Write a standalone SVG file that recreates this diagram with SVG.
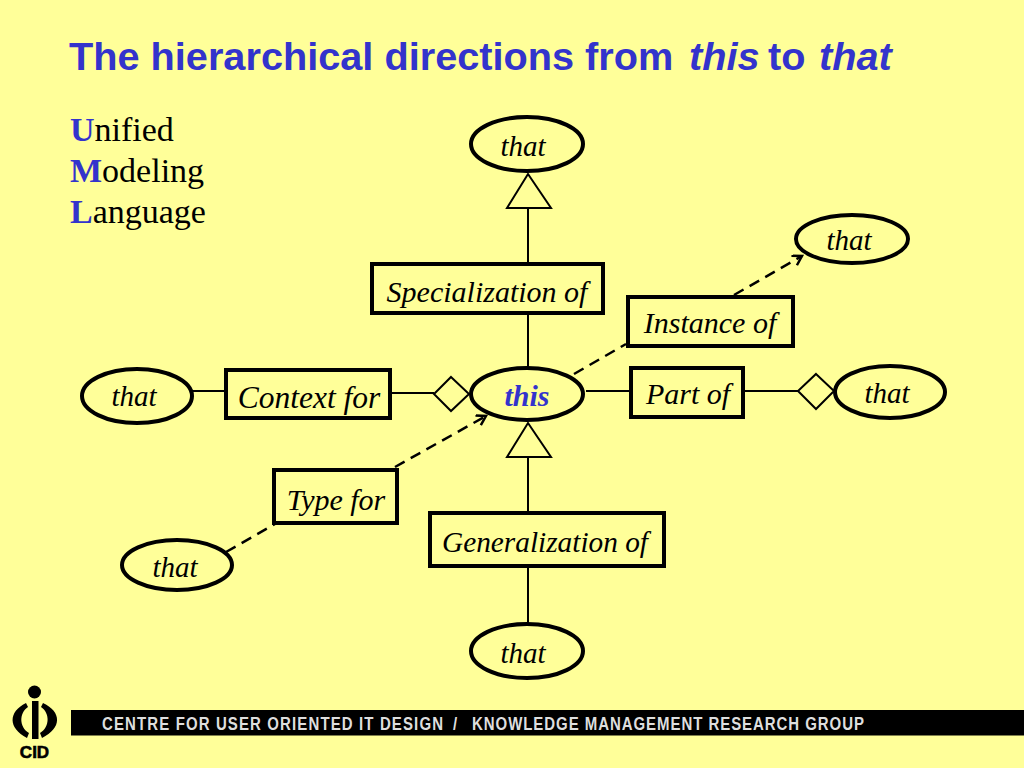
<svg xmlns="http://www.w3.org/2000/svg" width="1024" height="768" viewBox="0 0 1024 768">
<style>
.el{fill:#ffff99;stroke:#000;stroke-width:4}
.box{fill:#ffff99;stroke:#000;stroke-width:4}
.sym{fill:#ffff99;stroke:#000;stroke-width:2}
.ln{fill:none;stroke:#000;stroke-width:2}
.da{fill:none;stroke:#000;stroke-width:2.5;stroke-dasharray:11 7}
.t{font-family:"Liberation Serif",serif;font-style:italic;font-size:30px;fill:#000;text-anchor:middle}
.w{font-size:29px}
.u{font-family:"Liberation Serif",serif;font-size:34px;fill:#000}
.u tspan{font-weight:bold;fill:#3333cc}
.h{font-family:"Liberation Sans",sans-serif;font-weight:bold;font-size:39.7px;fill:#3333cc}
.f{font-family:"Liberation Sans",sans-serif;font-weight:bold;font-size:15px;fill:#dedede}
</style>
<defs><marker id="arr" markerWidth="14" markerHeight="14" refX="11" refY="6" orient="auto" markerUnits="userSpaceOnUse"><path d="M2 0.5L11 6L2 11.5" fill="none" stroke="#000" stroke-width="2.5"/></marker></defs>
<rect width="1024" height="768" fill="#ffff99"/>
<text class="h" x="69" y="70">The hierarchical directions from</text>
<text class="h" x="689" y="70" font-style="italic">this</text>
<text class="h" x="768" y="70">to</text>
<text class="h" x="819" y="70" font-style="italic">that</text>
<text class="u" x="70" y="141"><tspan>U</tspan>nified</text>
<text class="u" x="70" y="182"><tspan>M</tspan>odeling</text>
<text class="u" x="70" y="223"><tspan>L</tspan>anguage</text>
<g id="connectors">
<path class="ln" d="M528 208V264M528 314V368M528 457V512M528 567V624M193 391H226M391 393H434M586 391H631M743 391H798"/>
<path class="da" d="M734 295L802 256" marker-end="url(#arr)"/>
<path class="da" d="M574 374L626 344"/>
<path class="da" d="M395 467L486 416" marker-end="url(#arr)"/>
<path class="da" d="M226 552L275 524"/>
<path class="sym" d="M528 174L551 208H507ZM528 423L551 457H507ZM451 377L469 394L451 411L434 394ZM816 374L834 391L816 409L798 391Z"/>
</g>
<g id="n1"><ellipse class="el" cx="527" cy="144" rx="56" ry="27"/><text class="t w" x="523" y="156">that</text></g>
<g id="n2"><ellipse class="el" cx="852" cy="239" rx="56" ry="24"/><text class="t w" x="849" y="250">that</text></g>
<g id="n3"><rect class="box" x="372" y="264" width="231" height="49"/><text class="t" x="487" y="302">Specialization of</text></g>
<g id="n4"><rect class="box" x="628" y="297" width="165" height="49"/><text class="t" x="710" y="333">Instance of</text></g>
<g id="n5"><ellipse class="el" cx="137" cy="396" rx="55" ry="27"/><text class="t w" x="134" y="406">that</text></g>
<g id="n6"><rect class="box" x="226" y="370" width="164" height="48"/><text class="t" x="309" y="408" style="font-size:31.5px">Context for</text></g>
<g id="this"><ellipse class="el" cx="527" cy="394" rx="56" ry="26"/><text class="t" x="527" y="406" font-weight="bold" style="fill:#3333cc">this</text></g>
<g id="n7"><rect class="box" x="631" y="368" width="112" height="49"/><text class="t" x="688" y="404">Part of</text></g>
<g id="n8"><ellipse class="el" cx="890" cy="392" rx="55" ry="26"/><text class="t w" x="887" y="403">that</text></g>
<g id="n9"><rect class="box" x="274" y="470" width="123" height="53"/><text class="t" x="336" y="510">Type for</text></g>
<g id="n10"><rect class="box" x="430" y="513" width="234" height="53"/><text class="t" x="545" y="552" style="font-size:29.3px">Generalization of</text></g>
<g id="n11"><ellipse class="el" cx="177" cy="565" rx="55" ry="25"/><text class="t w" x="175" y="577">that</text></g>
<g id="n12"><ellipse class="el" cx="527" cy="651" rx="56" ry="27"/><text class="t w" x="523" y="663">that</text></g>
<g id="footer">
<rect x="71" y="710" width="953" height="25.5" fill="#000"/>
<text class="f" transform="translate(102 730) scale(1 1.2)" textLength="341">CENTRE FOR USER ORIENTED IT DESIGN</text>
<text class="f" transform="translate(453 730) scale(1 1.2)">/</text>
<text class="f" transform="translate(472 730) scale(1 1.2)" textLength="392">KNOWLEDGE MANAGEMENT RESEARCH GROUP</text>
<circle cx="34.500" cy="692" r="6.500" fill="#000"/>
<rect x="32" y="701" width="6.500" height="38" fill="#000"/>
<path d="M26 703C8 712 8 728 27 738L29 733C19 727 19 713 28 707Z" fill="#000"/>
<path d="M43 703C62 712 62 728 42 738L40 733C50 727 50 713 41 707Z" fill="#000"/>
<text x="34.500" y="758" font-family="'Liberation Sans',sans-serif" font-weight="bold" font-size="17" fill="#000" stroke="#000" stroke-width="0.6" text-anchor="middle">CID</text>
</g>
</svg>
